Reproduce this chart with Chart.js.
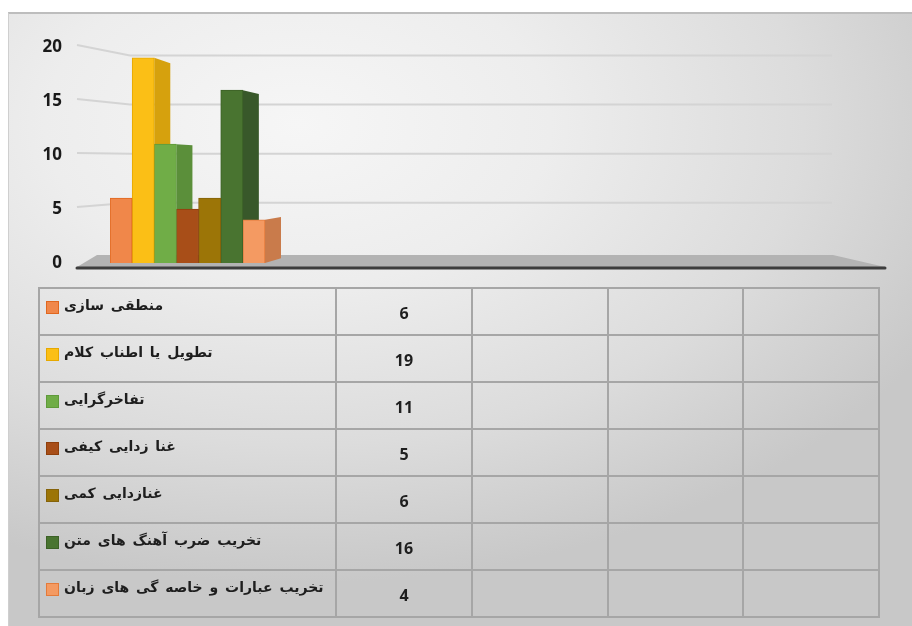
<!DOCTYPE html>
<html><head><meta charset="utf-8">
<script src="https://cdn.jsdelivr.net/npm/chart.js@4"></script>
<style>
html,body{margin:0;padding:0;background:#fff;width:912px;height:626px;overflow:hidden;position:relative;}
#frame{position:absolute;left:8px;top:12px;width:904px;height:614px;border-top:2px solid #bdbdbd;border-left:1px solid #cfcfcf;box-sizing:border-box;
background: radial-gradient(ellipse 80% 75% at 32% 18%, #f6f6f6 0%, #ededed 35%, #dcdcdc 70%, #c8c8c8 100%);}
#cv{position:absolute;left:0;top:0;}
#tbl{position:absolute;left:38px;top:287px;border-collapse:collapse;table-layout:fixed;width:840px;}
#tbl td{border:2px solid #a6a6a6;height:47px;padding:0;box-sizing:border-box;}
#tbl td.lab{vertical-align:top;padding:8px 0 0 6px;white-space:nowrap;}
#tbl td.val{text-align:center;vertical-align:middle;font:700 16px "Open Sans",sans-serif;color:#1e1e1e;padding-top:2px;}
.key{display:inline-block;width:11px;height:11px;border:1.5px solid;vertical-align:top;margin-top:4px;}
.txt{display:inline-block;font:700 14px "DejaVu Sans",sans-serif;color:#1e1e1e;margin-left:5px;vertical-align:top;word-spacing:2px;}
</style>
</head><body>
<div id="frame"></div>
<canvas id="cv" width="912" height="290"></canvas>
<table id="tbl"><colgroup><col style="width:297px"><col style="width:136px"><col style="width:136px"><col style="width:135px"><col style="width:136px"></colgroup><tbody id="tb"></tbody></table>
<script>
const categories = ['', '', '', '', ''];
const seriesNames = [
  'منطقی سازی',
  'تطویل یا اطناب کلام',
  'تفاخرگرایی',
  'غنا زدایی کیفی',
  'غنازدایی کمی',
  'تخریب ضرب آهنگ های متن',
  'تخریب عبارات و خاصه گی های زبان'
];
const seriesValues = [6, 19, 11, 5, 6, 16, 4];
const yTicks = [0, 5, 10, 15, 20];

const frontColors = ['#f0874a', '#fbbf16', '#70ad47', '#a84e18', '#9c7507', '#497430', '#f49a62'];
const sideColors  = ['#c96a30', '#d6a10d', '#5b8f3a', '#833c10', '#7a5a04', '#38582a', '#c97b4b'];
const edgeColors  = ['#e0671f', '#e6a800', '#5f9a3a', '#8f3f0c', '#85630a', '#3c6126', '#e47a3a'];

const datasets = seriesNames.map((name, i) => ({
  label: name,
  data: categories.map((c, j) => j === 0 ? seriesValues[i] : null),
  backgroundColor: frontColors[i],
  borderColor: edgeColors[i],
  borderWidth: 1,
  categoryPercentage: 1.0,
  barPercentage: 1.0
}));

const threeD = {
  id: 'threeD',
  beforeDatasetsDraw(chart) {
    const ctx = chart.ctx, ca = chart.chartArea, y = chart.scales.y;
    const z = y.getPixelForValue(0);
    ctx.save();
    ctx.strokeStyle = '#d4d4d4'; ctx.lineWidth = 2;
    y.ticks.forEach(t => {
      if (t.value === 0) return;
      const fy = y.getPixelForValue(t.value);
      const by = (z - 11) + (fy - z) * 0.91;
      ctx.beginPath();
      ctx.moveTo(ca.left - 33, fy - 2);
      ctx.lineTo(ca.left + 20, by);
      ctx.lineTo(ca.right - 53, by);
      ctx.stroke();
    });
    ctx.fillStyle = '#b3b3b3';
    ctx.beginPath();
    ctx.moveTo(ca.left - 13, z - 8); ctx.lineTo(ca.right - 52, z - 8);
    ctx.lineTo(ca.right, z + 4); ctx.lineTo(ca.left - 33, z + 4);
    ctx.closePath(); ctx.fill();
    ctx.strokeStyle = '#3d3d3d'; ctx.lineWidth = 3; ctx.lineCap = 'round';
    ctx.beginPath(); ctx.moveTo(ca.left - 33, z + 5); ctx.lineTo(ca.right, z + 5); ctx.stroke();
    const hz = y.getPixelForValue(9);
    chart.data.datasets.forEach((ds, i) => {
      const meta = chart.getDatasetMeta(i);
      meta.data.forEach((bar, j) => {
        if (ds.data[j] == null) return;
        const p = bar.getProps(['x', 'y', 'base', 'width'], true);
        if (!isFinite(p.y)) return;
        const right = p.x + p.width / 2;
        const d = 16;
        const dyTop = (hz - p.y) * 0.05, dyBase = (hz - p.base) * 0.05;
        ctx.fillStyle = sideColors[i];
        ctx.beginPath();
        ctx.moveTo(right, p.y); ctx.lineTo(right + d, p.y + dyTop);
        ctx.lineTo(right + d, p.base + dyBase); ctx.lineTo(right, p.base);
        ctx.closePath(); ctx.fill();
      });
    });
    ctx.restore();
  }
};

new Chart(document.getElementById('cv'), {
  type: 'bar',
  data: { labels: categories, datasets },
  plugins: [threeD],
  options: {
    responsive: false,
    animation: false,
    layout: { padding: { left: 30, right: 27, top: 47, bottom: 27 } },
    plugins: { legend: { display: false }, tooltip: { enabled: false } },
    scales: {
      x: { display: false },
      y: {
        min: 0, max: 20,
        afterBuildTicks: s => { s.ticks = yTicks.map(v => ({ value: v })); },
        afterFit: s => { s.width = 80; },
        grid: { display: false, drawTicks: true, tickLength: 44 },
        border: { display: false },
        ticks: { padding: 4, color: '#1a1a1a', font: { family: 'Open Sans', weight: '700', size: 17 } }
      }
    }
  }
});

const tb = document.getElementById('tb');
seriesNames.forEach((name, i) => {
  const tr = document.createElement('tr');
  const td = document.createElement('td');
  td.className = 'lab';
  const key = document.createElement('span');
  key.className = 'key';
  key.style.background = frontColors[i];
  key.style.borderColor = edgeColors[i];
  const tx = document.createElement('span');
  tx.className = 'txt';
  tx.dir = 'rtl';
  tx.textContent = name;
  td.appendChild(key); td.appendChild(tx);
  tr.appendChild(td);
  categories.forEach((c, j) => {
    const v = document.createElement('td');
    v.className = 'val';
    v.textContent = j === 0 ? String(seriesValues[i]) : '';
    tr.appendChild(v);
  });
  tb.appendChild(tr);
});
</script>
</body></html>
